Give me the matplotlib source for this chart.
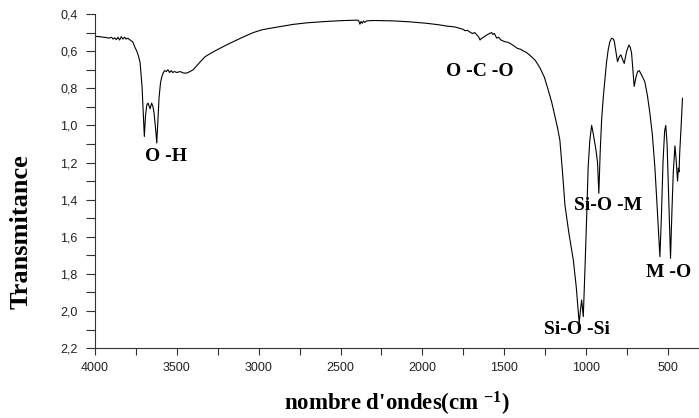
import matplotlib
matplotlib.use("Agg")
import matplotlib.pyplot as plt
from matplotlib.ticker import MultipleLocator, FuncFormatter

plt.rcParams["mathtext.fontset"] = "custom"
plt.rcParams["mathtext.rm"] = "Liberation Serif:bold"
plt.rcParams["mathtext.default"] = "rm"

# FTIR spectrum (wavenumber cm-1, transmittance)
wavenumber = [
    4000, 3975, 3950, 3930, 3915, 3900, 3890, 3880, 3870, 3860, 3850, 3840,
    3830, 3820, 3810, 3800, 3786, 3770, 3756, 3745, 3737, 3725, 3713, 3705,
    3699, 3692, 3684, 3676, 3668, 3664, 3654, 3646, 3640, 3630, 3623, 3616,
    3609, 3600, 3593, 3585, 3575, 3565, 3555, 3545, 3535, 3525, 3515, 3500,
    3480, 3460, 3440, 3420, 3400, 3365, 3328, 3290, 3257, 3200, 3134, 3080,
    3033, 2980, 2931, 2850, 2790, 2700, 2585, 2500, 2400, 2390, 2382, 2375,
    2368, 2360, 2352, 2340, 2300, 2180, 2080, 1974, 1900, 1852, 1800, 1770,
    1750, 1740, 1725, 1710, 1695, 1680, 1665, 1655, 1648, 1640, 1630, 1618,
    1605, 1590, 1577, 1570, 1560, 1546, 1535, 1520, 1500, 1480, 1465, 1440,
    1420, 1400, 1385, 1363, 1340, 1310, 1282, 1255, 1231, 1210, 1190, 1175,
    1160, 1145, 1129, 1105, 1078, 1060, 1042, 1035, 1027, 1017, 1007, 997,
    987, 977, 966, 955, 940, 930, 922, 914, 905, 895, 885, 875,
    865, 855, 844, 836, 828, 818, 808, 797, 787, 777, 767, 752,
    738, 730, 722, 714, 706, 695, 685, 675, 660, 641, 625, 610,
    595, 580, 565, 549, 540, 530, 520, 513, 505, 495, 484, 475,
    467, 457, 450, 441, 436, 432, 428, 419, 411,
]
transmittance = [
    0.520, 0.522, 0.525, 0.527, 0.530, 0.525, 0.535, 0.528, 0.538, 0.525, 0.540, 0.522,
    0.535, 0.525, 0.535, 0.530, 0.540, 0.550, 0.580, 0.600, 0.620, 0.660, 0.790, 0.950,
    1.060, 0.950, 0.890, 0.880, 0.900, 0.910, 0.880, 0.900, 0.930, 1.020, 1.095, 0.970,
    0.850, 0.770, 0.740, 0.720, 0.705, 0.710, 0.700, 0.715, 0.705, 0.715, 0.710, 0.715,
    0.710, 0.718, 0.718, 0.710, 0.700, 0.665, 0.630, 0.610, 0.594, 0.568, 0.540, 0.518,
    0.500, 0.485, 0.477, 0.465, 0.456, 0.447, 0.440, 0.436, 0.433, 0.435, 0.455, 0.440,
    0.450, 0.438, 0.445, 0.437, 0.435, 0.437, 0.442, 0.450, 0.458, 0.465, 0.470, 0.478,
    0.483, 0.490, 0.488, 0.497, 0.505, 0.500, 0.515, 0.525, 0.540, 0.532, 0.527, 0.520,
    0.512, 0.505, 0.500, 0.510, 0.505, 0.530, 0.525, 0.540, 0.548, 0.552, 0.558, 0.572,
    0.585, 0.590, 0.598, 0.608, 0.625, 0.650, 0.690, 0.740, 0.810, 0.875, 0.953, 1.010,
    1.080, 1.240, 1.430, 1.580, 1.725, 1.870, 2.065, 2.000, 1.940, 2.030, 1.780, 1.510,
    1.220, 1.080, 1.000, 1.050, 1.130, 1.200, 1.366, 1.150, 0.970, 0.850, 0.756, 0.660,
    0.594, 0.550, 0.531, 0.532, 0.545, 0.600, 0.657, 0.630, 0.620, 0.645, 0.666, 0.600,
    0.567, 0.580, 0.610, 0.700, 0.790, 0.740, 0.710, 0.705, 0.730, 0.765, 0.840, 0.935,
    1.050, 1.220, 1.450, 1.707, 1.500, 1.200, 1.030, 1.000, 1.100, 1.400, 1.716, 1.450,
    1.250, 1.110, 1.180, 1.300, 1.230, 1.250, 1.150, 1.000, 0.854,
]

band_labels = ["O -H", "O -C -O", "Si-O -M", "Si-O -Si", "M -O"]
band_x = [3566, 1648, 867, 1058, 494]
band_y = [1.17, 0.71, 1.43, 2.10, 1.79]

fig = plt.figure(figsize=(6.99, 4.18), dpi=100)
ax = fig.add_axes([0.136, 0.167, 0.864, 0.7995])

ax.plot(wavenumber, transmittance, color="black", linewidth=0.8)

ax.set_xlim(4000, 310)
ax.set_ylim(2.2, 0.4)

ax.spines["top"].set_visible(False)
ax.spines["right"].set_visible(False)
ax.spines["left"].set_color("#333333")
ax.spines["bottom"].set_color("#333333")

ax.xaxis.set_major_locator(MultipleLocator(500))
ax.xaxis.set_minor_locator(MultipleLocator(250))
ax.yaxis.set_major_locator(MultipleLocator(0.2))
ax.yaxis.set_minor_locator(MultipleLocator(0.1))
ax.yaxis.set_major_formatter(FuncFormatter(lambda v, p: f"{v:.1f}".replace(".", ",")))

ax.tick_params(axis="x", which="both", direction="out", length=5, width=0.8,
               color="#333333", pad=5)
ax.tick_params(axis="y", which="both", direction="out", length=6.5, width=0.8,
               color="#333333", pad=6)
for lab in ax.get_xticklabels() + ax.get_yticklabels():
    lab.set_fontfamily("Liberation Sans")
    lab.set_fontsize(9)
    lab.set_color("#222222")

serif = "Liberation Serif"
ax.set_xlabel("nombre d'ondes(cm $^{-1}$)", fontfamily=serif, fontweight="bold",
              fontsize=16.5)
ax.xaxis.set_label_coords(0.5, -0.125)
ax.set_ylabel("Transmitance", fontfamily=serif, fontweight="bold", fontsize=19)
ax.yaxis.set_label_coords(-0.104, 0.35)

for text, x, y in zip(band_labels, band_x, band_y):
    ax.text(x, y, text, fontfamily=serif, fontweight="bold", fontsize=14,
            ha="center", va="center")

fig.savefig("out.png", dpi=100)
